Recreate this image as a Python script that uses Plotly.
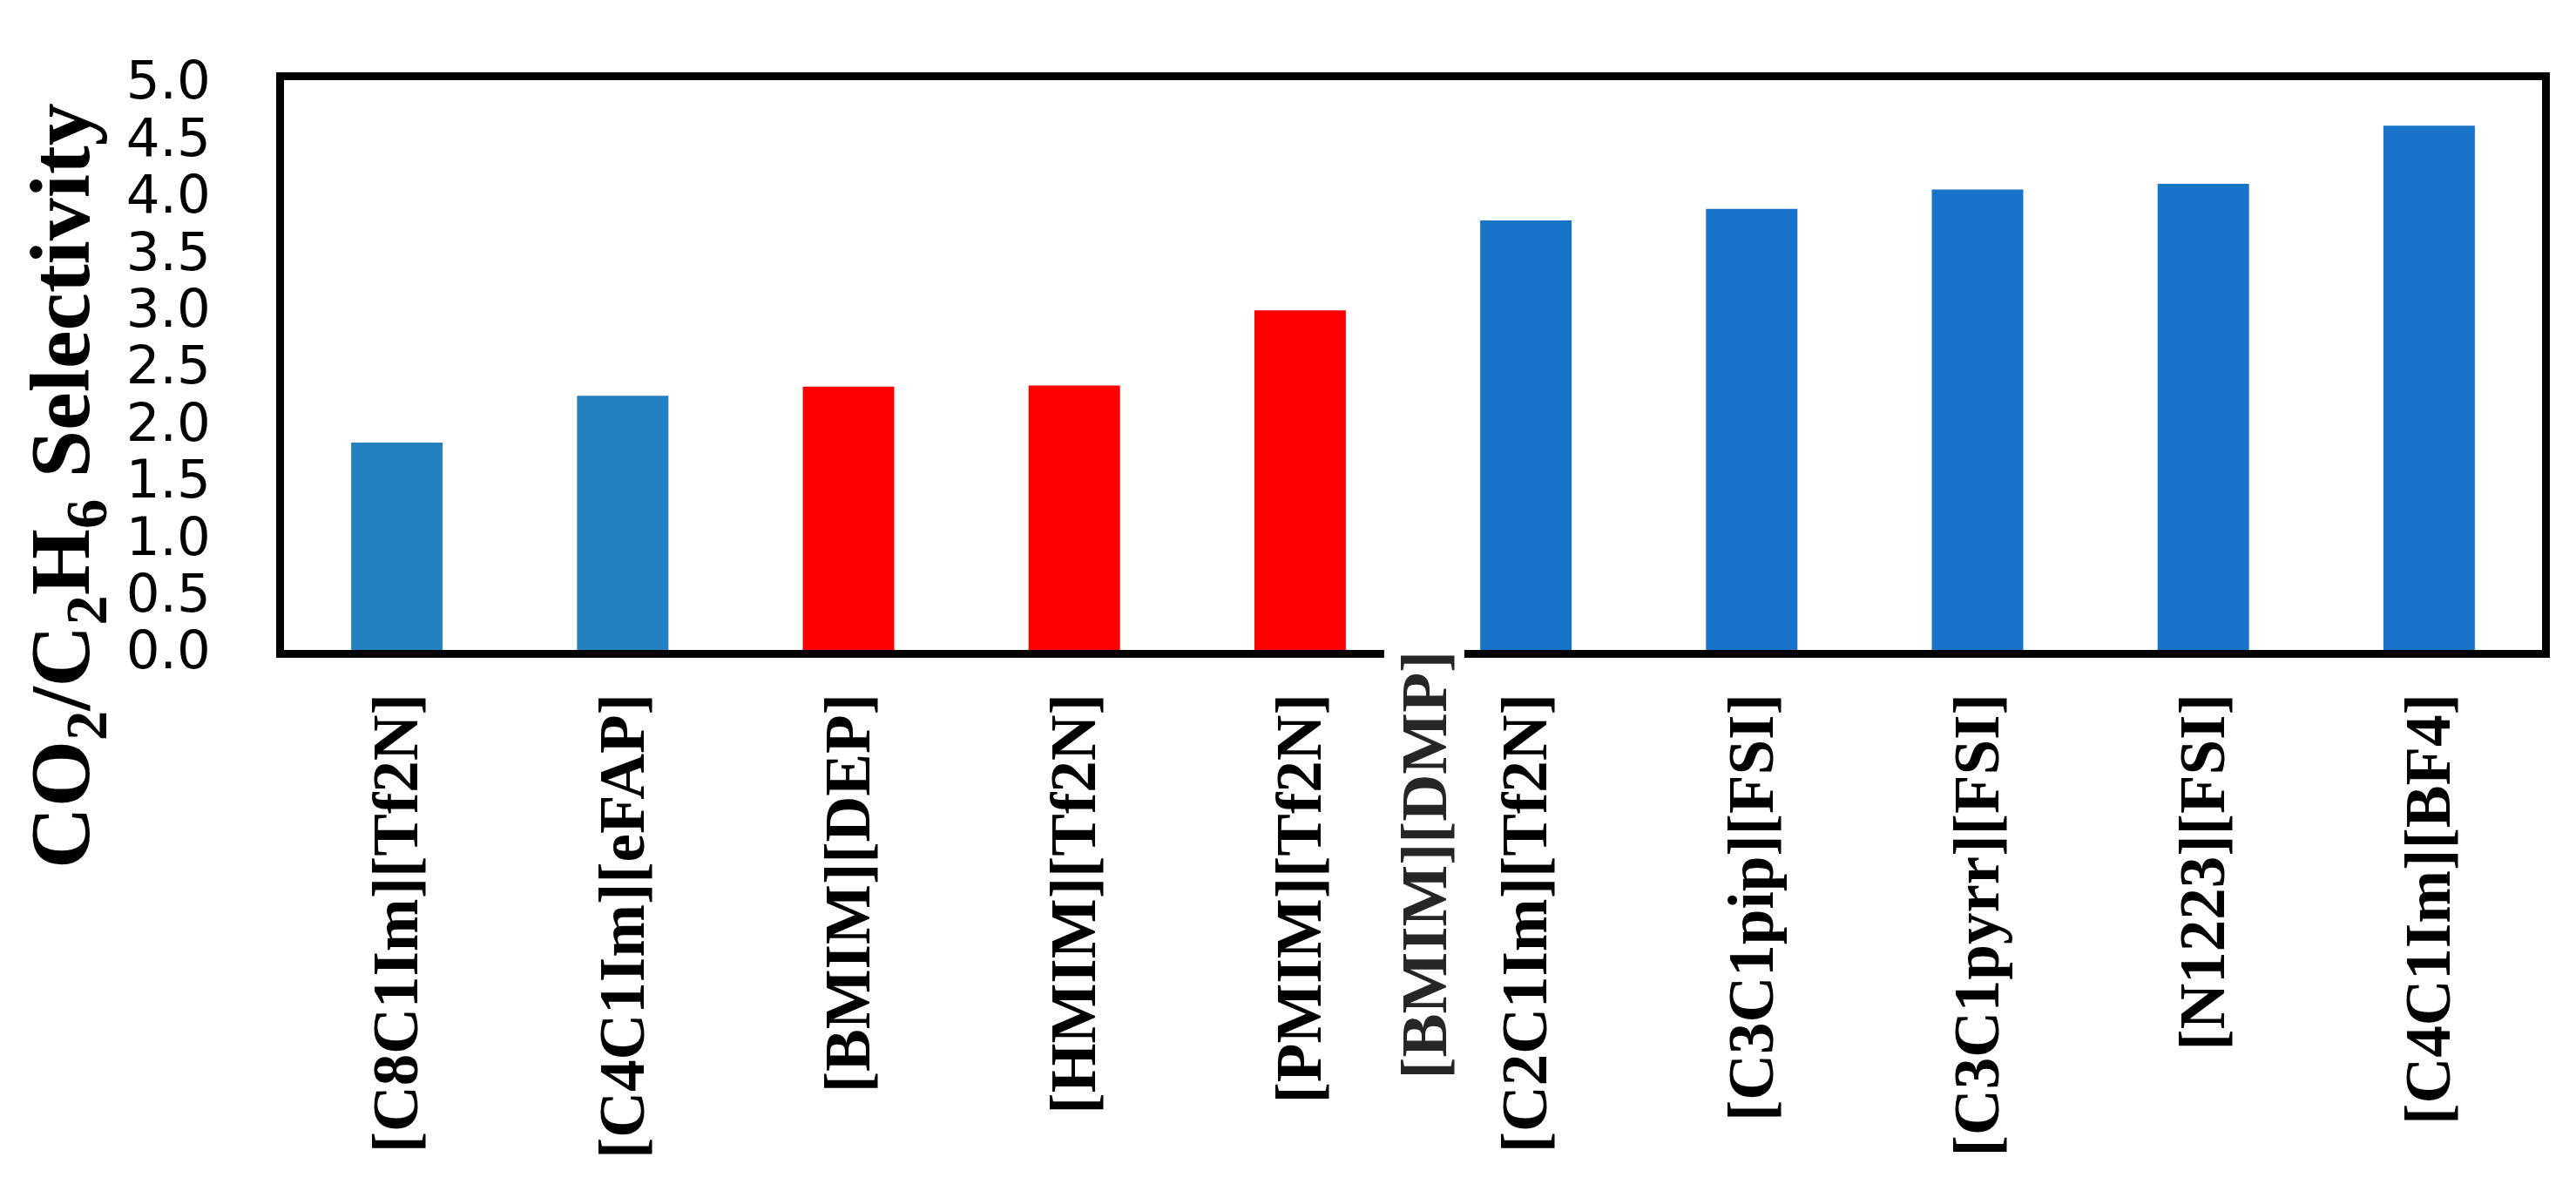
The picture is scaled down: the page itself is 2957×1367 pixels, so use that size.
import plotly.graph_objects as go

categories = ["[C8C1Im][Tf2N]", "[C4C1Im][eFAP]", "[BMIM][DEP]", "[HMIM][Tf2N]",
              "[PMIM][Tf2N]", "[C2C1Im][Tf2N]", "[C3C1pip][FSI]", "[C3C1pyrr][FSI]",
              "[N1223][FSI]", "[C4C1Im][BF4]"]
selectivity = [1.82, 2.23, 2.31, 2.32, 2.98, 3.77, 3.87, 4.04, 4.09, 4.60]
bar_colors = ["#2481C1", "#2481C1", "#FF0000", "#FF0000", "#FF0000",
              "#1874C9", "#1874C9", "#1874C9", "#1874C9", "#1874C9"]
extra_label = "[BMIM][DMP]"
y_ticks = [0.0, 0.5, 1.0, 1.5, 2.0, 2.5, 3.0, 3.5, 4.0, 4.5, 5.0]

SERIF = "Liberation Serif"

fig = go.Figure(go.Bar(
    x=categories, y=selectivity,
    marker=dict(color=bar_colors, line=dict(width=0)),
    width=0.405,
))

fig.update_layout(
    width=2957, height=1367,
    margin=dict(l=318, r=47, t=84, b=629, autoexpand=False),
    paper_bgcolor="white", plot_bgcolor="white",
    showlegend=False,
    bargap=0.6,
)

fig.update_xaxes(
    type="category",
    showline=True, linewidth=9, linecolor="black", mirror=True,
    showgrid=False, zeroline=False, ticks="",
    tickangle=-90,
    tickfont=dict(family=SERIF, size=73, color="black", weight="bold"),
    ticklabelstandoff=12,
    automargin=False,
)
fig.update_yaxes(
    range=[0, 5],
    tickvals=y_ticks, tickformat=".1f",
    showline=True, linewidth=9, linecolor="black", mirror=True,
    showgrid=False, zeroline=False, ticks="",
    tickfont=dict(family="DejaVu Sans", size=61, color="black"),
    ticklabelstandoff=63,
    automargin=False,
)

# y-axis title
fig.add_annotation(
    text="CO<sub>2</sub>/C<sub>2</sub>H<sub>6</sub> Selectivity",
    xref="paper", yref="paper", x=-0.0961, y=0.289,
    xanchor="center", yanchor="middle",
    textangle=-90, showarrow=False,
    font=dict(family=SERIF, size=98, color="black", weight="bold"),
)

# overlaid label between PMIM and C2C1Im, on a white patch that breaks the axis line
fig.add_annotation(
    text="<b>" + extra_label + "</b>",
    xref="x", yref="paper", x=4.55, y=0.006,
    xanchor="center", yanchor="top",
    textangle=-90, showarrow=False,
    bgcolor="white", borderpad=4,
    font=dict(family=SERIF, size=75, color="#262626"),
)

fig.write_html("out.html")
